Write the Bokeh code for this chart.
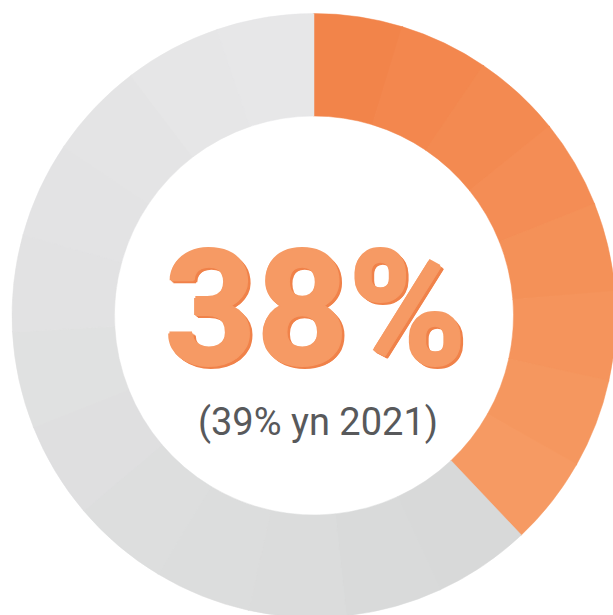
import math
from bokeh.plotting import figure
from bokeh.models import ColumnDataSource, Range1d
from bokeh.core.properties import value
from bokeh.embed import file_html
from bokeh.resources import INLINE

categories = ["2022", "Other"]
values = [38, 62]
headline = "38%"
subtitle = "(39% yn 2021)"

W, H = 613, 615
cx, cy = 313.5, 300.0
r_out, r_in = 302.0, 199.5

p = figure(width=W, height=H, output_backend="svg", toolbar_location=None,
           x_range=Range1d(0, W), y_range=Range1d(0, H), min_border=0)
p.axis.visible = False
p.grid.visible = False
p.outline_line_color = None
p.background_fill_color = "white"
p.border_fill_color = "white"


def hexcol(c):
    return "#%02x%02x%02x" % tuple(int(round(v)) for v in c)


def lerp(a, b, t):
    return tuple(a[i] + (b[i] - a[i]) * t for i in range(3))


grad = [((242, 132, 74), (246, 154, 99)), ((216, 217, 217), (231, 231, 232))]

total = sum(values)
start = math.pi / 2
xs, ys, sa, ea, cols = [], [], [], [], []
for v, (c0, c1) in zip(values, grad):
    span = v / total * 2 * math.pi
    n = max(2, int(round(v / 5)))
    for k in range(n):
        a0 = start - span * k / n
        a1 = start - span * (k + 1) / n
        t = k / (n - 1)
        xs.append(cx); ys.append(cy)
        sa.append(a1); ea.append(a0 + 0.003)
        cols.append(hexcol(lerp(c0, c1, t)))
    start -= span

src = ColumnDataSource(dict(x=xs, y=ys, start=sa, end=ea, color=cols))
p.annular_wedge(x="x", y="y", inner_radius=r_in, outer_radius=r_out,
                start_angle="start", end_angle="end", fill_color="color",
                line_color="color", line_width=0.5, source=src)

# headline: emboldened with small offsets, darker shadow behind
bold_offsets = [(-1.2, 0), (1.2, 0), (0, 1.2), (0, -1.2), (0, 0)]
hx, hy = cx + 1.5, cy + 6.5
for sx, sy, col in [(2.5, -2.5, "#f0824a"), (0, 0, "#f69a64")]:
    p.text(x=[hx + sx + ox for ox, oy in bold_offsets],
           y=[hy + sy + oy for ox, oy in bold_offsets],
           text=[headline] * len(bold_offsets),
           text_font=value("Roboto"), text_font_style="bold",
           text_font_size="160px", text_align="center",
           text_baseline="middle", text_color=col)

p.text(x=[cx + 4], y=[cy - 106], text=[subtitle], text_font=value("Roboto"),
       text_font_size="38px", text_align="center", text_baseline="middle",
       text_color="#58595b")

open("out.html", "w").write(file_html(p, INLINE))
